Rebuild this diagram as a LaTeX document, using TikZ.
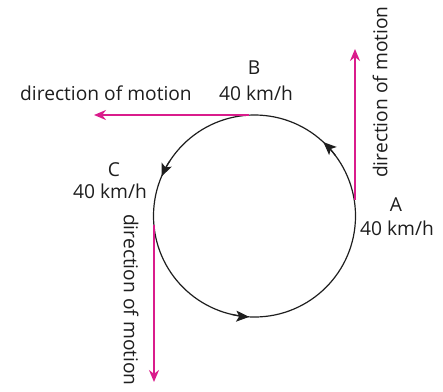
\documentclass[tikz,border=0pt]{standalone}
\usepackage{fontspec}
\setmainfont{Open Sans}
\usetikzlibrary{arrows.meta}
\definecolor{mag}{RGB}{218,28,140}
\definecolor{ink}{RGB}{30,30,30}
\begin{document}
\begin{tikzpicture}[x=1pt,y=-1pt,
  lbl/.style={font=\fontsize{19.2}{22}\selectfont,text=ink,inner sep=0pt},
  motion/.style={draw=mag,line width=1.6pt,-{Stealth[length=12pt,width=10pt]}},
  ring/.style={draw=ink,line width=1.2pt},
  tip/.style={ring,-{Stealth[length=13pt,width=11pt,inset=3pt]}}]
\useasboundingbox (0,0) rectangle (443,391);
\coordinate (O) at (254.5,216);
\draw[ring] (O) circle[radius=101];
% arrowheads on the circle (counterclockwise motion)
\draw[tip] (O) ++(-37:101) arc[start angle=-37,end angle=-47,radius=101];
\draw[tip] (O) ++(-147:101) arc[start angle=-147,end angle=-157,radius=101];
\draw[tip] (O) ++(-257:101) arc[start angle=-257,end angle=-267,radius=101];
% points
\coordinate (A) at (355,200);
\coordinate (B) at (249,115);
\coordinate (C) at (154,225);
\coordinate (Aend) at (355,49);
\coordinate (Bend) at (94,115);
\coordinate (Cend) at (154,382);
\draw[motion] (A) -- (Aend);
\draw[motion] (B) -- (Bend);
\draw[motion] (C) -- (Cend);
% labels
\node[lbl] (Bl) at (254,68) {B};
\node[lbl] (Bv) at (256,93) {40 km/h};
\node[lbl] (Bd) at (106,93) {direction of motion};
\node[lbl] (Cl) at (114,170) {C};
\node[lbl] (Cv) at (110,191) {40 km/h};
\node[lbl] (Al) at (396,205) {A};
\node[lbl] (Av) at (397,228) {40 km/h};
\node[lbl,rotate=90] (Ad) at (380,92) {direction of motion};
\node[lbl,rotate=-90] (Cd) at (131,300) {direction of motion};
\end{tikzpicture}
\end{document}
